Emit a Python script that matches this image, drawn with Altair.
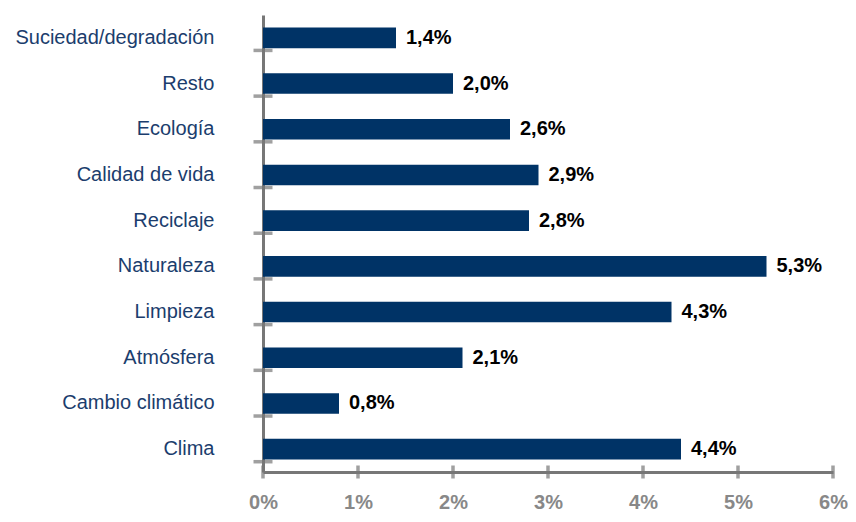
import altair as alt
import pandas as pd

categories = ["Suciedad/degradación", "Resto", "Ecología", "Calidad de vida", "Reciclaje",
              "Naturaleza", "Limpieza", "Atmósfera", "Cambio climático", "Clima"]
values = [1.4, 2.0, 2.6, 2.9, 2.8, 5.3, 4.3, 2.1, 0.8, 4.4]
x_ticks = [0, 1, 2, 3, 4, 5, 6]

W, H = 570, 457
step = H / len(categories)
GRAY = "#777777"
FS = 20

df = pd.DataFrame({"cat": categories, "val": [v / 100 for v in values]})
df["label"] = [f"{v:.1f}".replace(".", ",") + "%" for v in values]
ticks_df = pd.DataFrame({"t": [t / 100 for t in x_ticks]})
bottom_df = df.tail(1)

pi = 0.55
yscale = alt.Scale(domain=categories, paddingInner=pi, paddingOuter=pi / 2)
xscale = alt.Scale(domain=[0, 0.06], nice=False)

xenc = alt.X("val:Q", scale=xscale, title=None,
             axis=alt.Axis(format=".0%", values=[t / 100 for t in x_ticks], grid=False,
                           ticks=False, domainColor=GRAY, domainWidth=3,
                           labelColor="#888888", labelFontWeight="bold", labelFontSize=FS,
                           labelFont="Liberation Sans", labelPadding=20, labelFlush=False))
yenc = alt.Y("cat:N", scale=yscale, sort=categories, title=None,
             axis=alt.Axis(ticks=False, domainColor=GRAY, domainWidth=3,
                           labelColor="#1b3d6d", labelFontSize=FS, labelFont="Liberation Sans",
                           labelPadding=49, labelLimit=300))

bars = alt.Chart(df).mark_bar(color="#003366").encode(x=xenc, y=yenc)
text = alt.Chart(df).mark_text(align="left", dx=10, fontSize=FS, fontWeight="bold",
                               font="Liberation Sans", color="black").encode(
    x="val:Q", y=alt.Y("cat:N", scale=yscale, sort=categories), text="label:N")

ytick = alt.Chart(df).mark_tick(orient="horizontal", color=GRAY, thickness=3.5, size=19).encode(
    x=alt.datum(0), y=alt.Y("cat:N", scale=yscale, sort=categories),
    yOffset=alt.value(-step / 2))
ytick_bottom = alt.Chart(bottom_df).mark_tick(orient="horizontal", color=GRAY, thickness=3.5, size=19).encode(
    x=alt.datum(0), y=alt.Y("cat:N", scale=yscale, sort=categories),
    yOffset=alt.value(step / 2))
xtick = alt.Chart(ticks_df).mark_tick(orient="vertical", color=GRAY, thickness=3.5, size=13).encode(
    x=alt.X("t:Q", scale=xscale), y=alt.value(H))

chart = alt.layer(bars, text, ytick, ytick_bottom, xtick).properties(
    width=W, height=H,
    background="white",
    autosize=alt.AutoSizeParams(type="none"),
    padding={"left": 255, "top": 7, "right": 15, "bottom": 42},
).configure_view(stroke="transparent", strokeWidth=0)

chart.save("out.html", embed_options={"renderer": "svg", "actions": False})
